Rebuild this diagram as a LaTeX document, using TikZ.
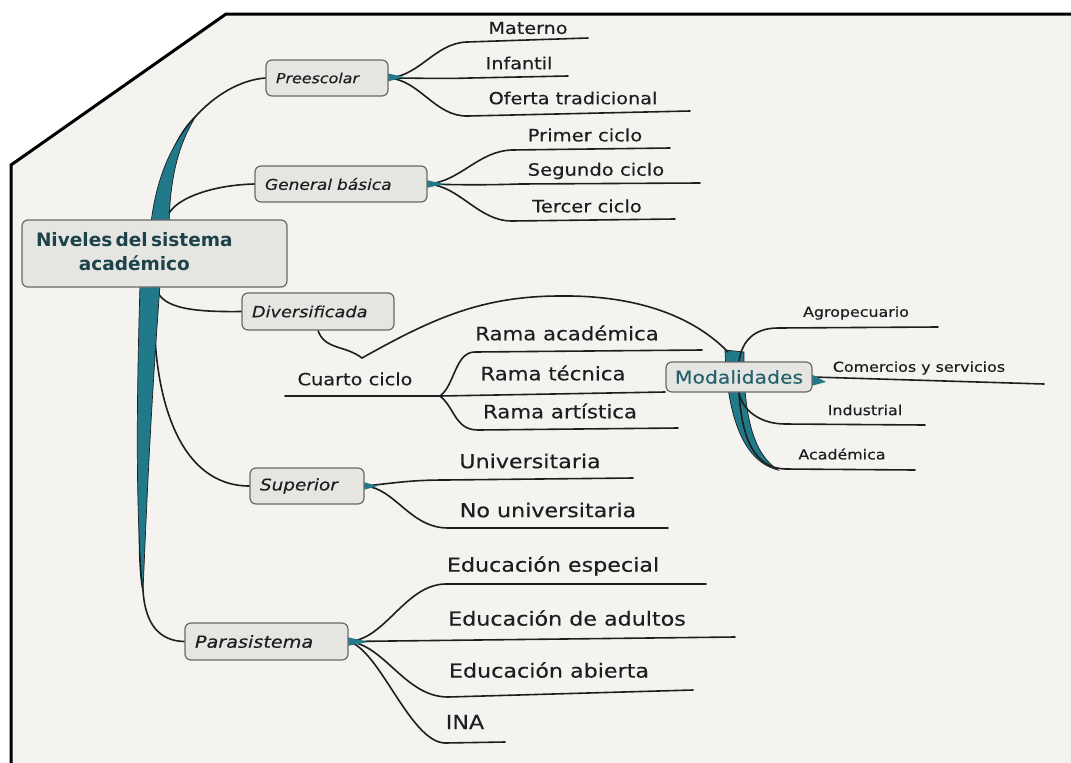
\documentclass[tikz,border=0pt]{standalone}
\usepackage{fontspec}
\setmainfont{DejaVu Sans}[FakeStretch=1.15, FakeBold=0.3]
\newfontfamily\rootfont{DejaVu Sans}
\definecolor{paper}{RGB}{244,243,240}
\definecolor{trunkteal}{RGB}{32,122,138}
\definecolor{ink}{RGB}{28,30,32}
\definecolor{boxfill}{RGB}{229,229,226}
\definecolor{boxline}{RGB}{105,105,103}
\definecolor{roottext}{RGB}{30,66,74}
\definecolor{modtext}{RGB}{38,98,108}
\newcommand{\fsz}[1]{\fontsize{#1}{#1}\selectfont}
\pgfdeclarelayer{paperl}
\pgfdeclarelayer{connl}
\pgfsetlayers{paperl,connl,main}
\tikzset{
  conn/.style={draw=ink, line width=1.6pt, line cap=round},
  uline/.style={draw=ink, line width=2pt, line cap=round},
  leaf/.style={inner sep=0pt, text=ink},
  catbox/.style={draw=boxline, fill=boxfill, line width=1.2pt, rounded corners=6pt, inner xsep=10pt, inner ysep=0pt, align=left, text=ink},
  trunk/.style={fill=trunkteal, draw=ink, line width=0.7pt},
  wedge/.style={fill=trunkteal},
}
\begin{document}
\begin{tikzpicture}[x=1pt,y=-1pt]
\useasboundingbox (0,0) rectangle (1071,763);
\begin{pgfonlayer}{paperl}
\fill[white] (0,0) rectangle (1071,763);
\fill[paper] (226,14) -- (1071,14) -- (1071,763) -- (11,763) -- (11,165) -- cycle;
\draw[black, line width=3pt] (1071,14) -- (226,14) -- (11,165) -- (11,763);
\end{pgfonlayer}

% ---------- nodes ----------
\node[catbox, text width=237pt, minimum height=67pt, inner xsep=14pt] (root) at (154.5,253.5)
  {\rootfont\bfseries\fontsize{18.5}{24}\selectfont\color{roottext}\begin{tabular}{@{}c@{}}Niveles del sistema\\académico\end{tabular}};
\node[catbox, text width=102pt, minimum height=36pt, font=\itshape\fsz{13.8}] (pre) at (327,78) {Preescolar};
\node[catbox, text width=152pt, minimum height=36pt, font=\itshape\fsz{14.8}] (gen) at (341,184) {General básica};
\node[catbox, text width=132pt, minimum height=37pt, font=\itshape\fsz{15.4}] (div) at (318,311.5) {Diversificada};
\node[catbox, text width=94pt, minimum height=36pt, font=\itshape\fsz{16}] (sup) at (307,486) {Superior};
\node[catbox, text width=143pt, minimum height=37pt, font=\itshape\fsz{16.7}] (par) at (266.5,641.5) {Parasistema};
\node[catbox, align=center, font=\fsz{17.7}, text=modtext, minimum width=146pt, minimum height=30pt, inner xsep=4pt] (mod) at (739,377) {Modalidades};

% leaves
\node[leaf, font=\fsz{16.7}] (materno) at (528,28) {Materno};
\node[leaf, font=\fsz{16.7}] (infantil) at (519,63) {Infantil};
\node[leaf, font=\fsz{16.7}] (oferta) at (573,98) {Oferta tradicional};
\node[leaf, font=\fsz{17}] (primer) at (585,135) {Primer ciclo};
\node[leaf, font=\fsz{17}] (segundo) at (596,171) {Segundo ciclo};
\node[leaf, font=\fsz{17}] (tercer) at (587,206) {Tercer ciclo};
\node[leaf, font=\fsz{16.8}] (cuarto) at (355,379) {Cuarto ciclo};
\node[leaf, font=\fsz{18.5}] (racad) at (567,333) {Rama académica};
\node[leaf, font=\fsz{18.5}] (rtec) at (553,373) {Rama técnica};
\node[leaf, font=\fsz{18.5}] (rart) at (560,411) {Rama artística};
\node[leaf, font=\fsz{13.8}] (agro) at (856,313) {Agropecuario};
\node[leaf, font=\fsz{13.8}] (comer) at (919,368) {Comercios y servicios};
\node[leaf, font=\fsz{13.8}] (indus) at (865,410) {Industrial};
\node[leaf, font=\fsz{13.8}] (macad) at (842,454) {Académica};
\node[leaf, font=\fsz{19.3}] (univ) at (530,461) {Universitaria};
\node[leaf, font=\fsz{19.3}] (nouniv) at (548,510) {No universitaria};
\node[leaf, font=\fsz{19.3}] (especial) at (553,566) {Educación especial};
\node[leaf, font=\fsz{19.3}] (adultos) at (567,618) {Educación de adultos};
\node[leaf, font=\fsz{19.3}] (abierta) at (549,670) {Educación abierta};
\node[leaf, font=\fsz{19.3}] (ina) at (465,722) {INA};

% coordinates for connector ends
\coordinate (matA) at (467,42);  \coordinate (matB) at (588,38);
\coordinate (infA) at (470,78);  \coordinate (infB) at (568,76);
\coordinate (ofeA) at (468,116); \coordinate (ofeB) at (690,111);
\coordinate (priA) at (512,150); \coordinate (priB) at (670,148);
\coordinate (segA) at (520,184); \coordinate (segB) at (700,183);
\coordinate (terA) at (512,221); \coordinate (terB) at (675,219);
\coordinate (brace) at (362,358); \coordinate (arcTop) at (560,296); \coordinate (modTop) at (728,352);
\coordinate (cuaA) at (285,396); \coordinate (cuaJ) at (440,396);
\coordinate (racA) at (475,352); \coordinate (racB) at (702,350);
\coordinate (rtcB) at (665,392);
\coordinate (rarA) at (478,430); \coordinate (rarB) at (678,428);
\coordinate (agA) at (778,328); \coordinate (agB) at (938,327);
\coordinate (comB) at (1044,384);
\coordinate (indA) at (785,424); \coordinate (indB) at (925,425);
\coordinate (acaA) at (785,469); \coordinate (acaB) at (915,470);
\coordinate (uniA) at (445,480); \coordinate (uniB) at (633,478);
\coordinate (nouA) at (448,528); \coordinate (nouB) at (668,528);
\coordinate (espA) at (445,584); \coordinate (espB) at (706,584);
\coordinate (aduB) at (735,637);
\coordinate (abiA) at (448,697); \coordinate (abiB) at (693,690);
\coordinate (inaA) at (445,743); \coordinate (inaB) at (505,742);

\begin{pgfonlayer}{connl}
% root branches
\draw[conn] ([xshift=5pt]root.north) .. controls (162,175) and (172,140) .. (195,117) .. controls (215,95) and (240,80) .. (pre.west);
\draw[conn] ([xshift=12pt]root.north) .. controls (170,200) and (210,185) .. (gen.west);
\draw[conn] ([xshift=2pt]root.south) .. controls (160,310) and (200,312) .. (div.west);
\draw[conn] (root.south) .. controls (150,400) and (180,486) .. (sup.west);
\draw[conn] ([xshift=-5pt]root.south) .. controls (140,450) and (136,560) .. (143,590) .. controls (145,625) and (160,641) .. (par.west);
% trunk shapes
\path[trunk] (150,232) .. controls (155,180) and (170,145) .. (196,116) .. controls (178,145) and (169,180) .. (169,232) -- cycle;
\path[trunk] (140,285) .. controls (136,420) and (136,520) .. (143,592) .. controls (146,520) and (150,420) .. (160,285) -- cycle;
\path[trunk] (725,350) .. controls (727,420) and (745,462) .. (778,470) .. controls (755,455) and (743,420) .. (744,352) -- cycle;

% Preescolar
\draw[conn] (pre.east) .. controls (420,76) and (435,43) .. (matA) -- (matB);
\draw[conn] (pre.east) .. controls (420,78) and (440,79) .. (infA) -- (infB);
\draw[conn] (pre.east) .. controls (420,80) and (435,117) .. (ofeA) -- (ofeB);
% General basica
\draw[conn] (gen.east) .. controls (460,182) and (478,151) .. (priA) -- (priB);
\draw[conn] (gen.east) .. controls (460,185) and (490,185) .. (segA) -- (segB);
\draw[conn] (gen.east) .. controls (460,186) and (478,221) .. (terA) -- (terB);
% Diversificada
\draw[conn] (div.south) .. controls (325,350) and (345,345) .. (brace) .. controls (430,320) and (480,296) .. (arcTop) .. controls (640,295) and (695,318) .. (modTop);
\draw[uline] (cuaA) -- (cuaJ);
\draw[conn] (cuaJ) .. controls (455,385) and (455,352) .. (racA) -- (racB);
\draw[conn] (cuaJ) -- (rtcB);
\draw[conn] (cuaJ) .. controls (455,408) and (455,430) .. (rarA) -- (rarB);
% Modalidades
\draw[conn] (mod.north) .. controls (742,340) and (755,328) .. (agA) -- (agB);
\draw[conn] (mod.east) -- (comB);
\draw[conn] (mod.south) .. controls (742,410) and (760,424) .. (indA) -- (indB);
\draw[conn] (mod.south) .. controls (742,440) and (755,468) .. (acaA) -- (acaB);
% Superior
\draw[conn] (sup.east) .. controls (395,483) and (410,480) .. (uniA) -- (uniB);
\draw[conn] (sup.east) .. controls (395,488) and (410,528) .. (nouA) -- (nouB);
% Parasistema
\draw[conn] (par.east) .. controls (385,640) and (405,585) .. (espA) -- (espB);
\draw[conn] (par.east) -- (aduB);
\draw[conn] (par.east) .. controls (385,645) and (405,697) .. (abiA) -- (abiB);
\draw[conn] (par.east) .. controls (380,650) and (410,742) .. (inaA) -- (inaB);
% junction wedges
\fill[wedge] (386,73) -- (404,77) -- (386,82) -- cycle;
\fill[wedge] (426,180) -- (444,184) -- (426,188) -- cycle;
\fill[wedge] (363,482) -- (378,486) -- (363,490) -- cycle;
\fill[wedge] (347,637) -- (368,642) -- (347,646) -- cycle;
\fill[wedge] (811,374) -- (826,382) -- (811,386) -- cycle;
\end{pgfonlayer}
\end{tikzpicture}
\end{document}
